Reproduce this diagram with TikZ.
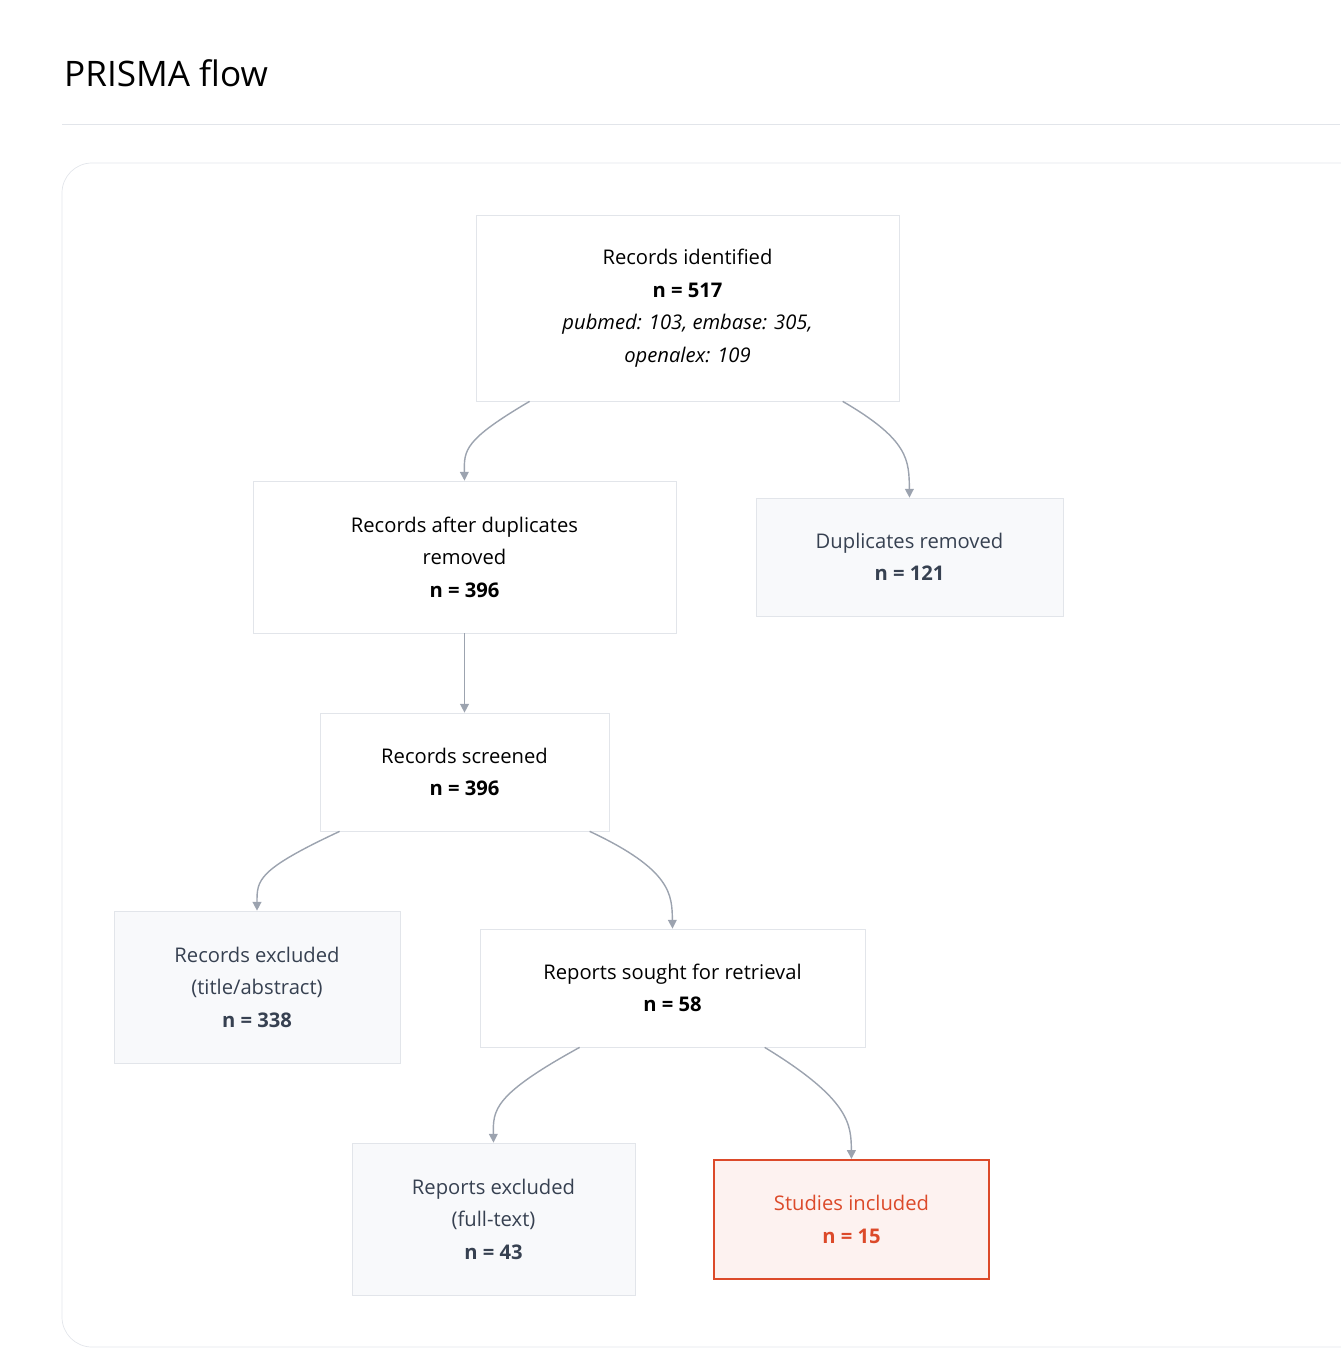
\documentclass[tikz,border=0pt]{standalone}
\usepackage{fontspec}
\setmainfont{Open Sans}
\usetikzlibrary{calc,arrows.meta}
\definecolor{edgegray}{HTML}{9CA3AF}
\definecolor{boxline}{HTML}{E2E5EA}
\definecolor{boxfill}{HTML}{F8F9FB}
\definecolor{mutedtext}{HTML}{374151}
\definecolor{hired}{HTML}{DC4A2A}
\definecolor{hifill}{HTML}{FDF2F0}
\begin{document}
\begin{tikzpicture}[
    x=0.02cm, y=-0.02cm,
    font=\fontsize{11.5pt}{18.5pt}\selectfont,
    size/.style 2 args={minimum width=#1*0.02cm, minimum height=#2*0.02cm},
    stage/.style={rectangle, draw=boxline, fill=white, align=center, inner sep=0pt, text=black},
    excl/.style={stage, fill=boxfill, text=mutedtext},
    final/.style={stage, draw=hired, line width=1.2pt, fill=hifill, text=hired},
    flow/.style={-{Triangle[length=5pt,width=5pt]}, edgegray, line width=0.8pt}
]
    \useasboundingbox (0,0) rectangle (1340,1372);
    \node[anchor=west, font=\fontsize{20pt}{24pt}\selectfont] (title) at (58,73) {PRISMA flow};
    \draw[boxline] (62,124) -- (1340,124);
    \draw[boxline, rounded corners=0.6cm] (1400,163) -- (62,163) -- (62,1347) -- (1400,1347);

    \node[stage, size={423}{186}] (ident) at (687.5,308) {Records identified\\ \textbf{n = 517}\\ \textit{pubmed: 103, embase: 305,}\\ \textit{openalex: 109}};
    \node[stage, size={423}{152}] (dedup) at (464.5,557) {Records after duplicates\\ removed\\ \textbf{n = 396}};
    \node[excl, size={307}{118}] (dups) at (909.5,557) {Duplicates removed\\ \textbf{n = 121}};
    \node[stage, size={289}{118}] (screen) at (464.5,772) {Records screened\\ \textbf{n = 396}};
    \node[excl, size={286}{152}] (exclta) at (257,987) {Records excluded\\ (title/abstract)\\ \textbf{n = 338}};
    \node[stage, size={385}{118}] (sought) at (672.5,988) {Reports sought for retrieval\\ \textbf{n = 58}};
    \node[excl, size={283}{152}] (exclft) at (493.5,1219) {Reports excluded\\ (full-text)\\ \textbf{n = 43}};
    \node[final, size={275}{119}] (incl) at (851.5,1219.5) {Studies included\\ \textbf{n = 15}};

    \draw[flow] ($(ident.south west)+(54,0)$) .. controls (464,440) and (464,450) .. (dedup.north);
    \draw[flow] ($(ident.south west)+(367,0)$) .. controls (909,440) and (909,460) .. (dups.north);
    \draw[flow] (dedup) -- (screen);
    \draw[flow] ($(screen.south west)+(20,0)$) .. controls (257,870) and (257,880) .. (exclta.north);
    \draw[flow] ($(screen.south west)+(270,0)$) .. controls (672,870) and (672,895) .. (sought.north);
    \draw[flow] ($(sought.south west)+(100,0)$) .. controls (493,1095) and (493,1110) .. (exclft.north);
    \draw[flow] ($(sought.south west)+(285,0)$) .. controls (851,1100) and (851,1125) .. (incl.north);
\end{tikzpicture}
\end{document}
